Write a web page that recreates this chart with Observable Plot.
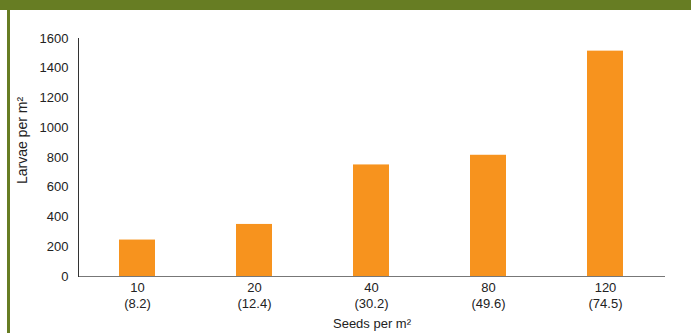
<!DOCTYPE html>
<html>
<head>
<meta charset="utf-8">
<script src="https://cdn.jsdelivr.net/npm/d3@7"></script>
<script src="https://cdn.jsdelivr.net/npm/@observablehq/plot@0.6"></script>
<style>
  html, body { margin: 0; padding: 0; background: #fff; }
  #panel { position: relative; width: 691px; height: 333px; overflow: hidden; background: #fff; }
  #panel .band-top { position: absolute; left: 0; top: 0; width: 691px; height: 10px; background: #677d23; }
  #panel .band-left { position: absolute; left: 7px; top: 0; width: 3px; height: 333px; background: #677d23; }
  #chart { position: absolute; left: 0; top: 0; }
</style>
</head>
<body>
<div id="panel">
  <div id="chart"></div>
  <div class="band-top"></div>
  <div class="band-left"></div>
</div>
<script>
// Seeding rate (seeds per m²) and the matching rate in kg/ha shown in brackets
const seedRates = ["10", "20", "40", "80", "120"];
const seedKg = ["8.2", "12.4", "30.2", "49.6", "74.5"];
// Larvae counted per m² at each seeding rate
const larvae = [245, 350, 750, 815, 1515];
// Y axis tick values
const yTicks = [0, 200, 400, 600, 800, 1000, 1200, 1400, 1600];

const rows = seedRates.map((rate, i) => ({rate, kg: seedKg[i], larvae: larvae[i]}));

const chart = Plot.plot({
  width: 691,
  height: 333,
  marginLeft: 78,
  marginRight: 26,
  marginTop: 38,
  marginBottom: 57,
  style: {fontFamily: "'Liberation Sans', Arial, Helvetica, sans-serif", fontSize: "13px", color: "#222", background: "transparent"},
  x: {domain: seedRates, paddingInner: 0.69, paddingOuter: 0.345},
  y: {domain: [0, 1600]},
  marks: [
    Plot.barY(rows, {x: "rate", y: "larvae", fill: "#f7931e"}),
    Plot.ruleY([0], {stroke: "#777", strokeWidth: 1.2}),
    Plot.frame({anchor: "left", stroke: "#333"}),
    Plot.axisY({
      ticks: yTicks,
      tickFormat: d => String(d),
      tickSize: 0,
      tickPadding: 10,
      fontSize: 13,
      label: null
    }),
    // Y axis title, set a little above the plot's vertical centre
    Plot.text(["Larvae per m²"], {
      frameAnchor: "left",
      rotate: -90,
      dx: -56,
      dy: -17,
      fontSize: 14,
      textAnchor: "middle",
      fill: "#222"
    }),
    Plot.axisX({
      tickSize: 0,
      tickPadding: 4,
      fontSize: 13,
      lineHeight: 1.25,
      tickFormat: d => `${d}\n(${seedKg[seedRates.indexOf(d)]})`,
      label: "Seeds per m²",
      labelArrow: "none",
      labelAnchor: "center",
      labelOffset: 51
    })
  ]
});
document.getElementById("chart").appendChild(chart);
</script>
</body>
</html>
